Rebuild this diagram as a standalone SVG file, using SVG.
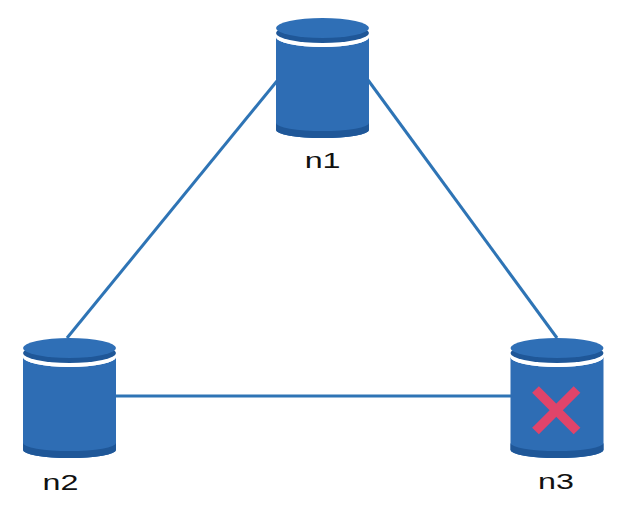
<svg xmlns="http://www.w3.org/2000/svg" xmlns:xlink="http://www.w3.org/1999/xlink" width="642" height="507" viewBox="0 0 642 507">
  <style>
    .edge { stroke: #2e74b5; stroke-width: 3; fill: none; stroke-linecap: butt; }
    .lbl { font-family: "Liberation Sans", Arial, sans-serif; font-size: 21.5px; fill: #111111; text-anchor: middle; }
    .body { fill: #2e6db4; }
    .band { fill: #1f5798; }
    .rim { fill: #1f5798; }
    .face { fill: #2f6fb6; }
    .gap { fill: #ffffff; }
    .cross { stroke: #e0446a; stroke-width: 9.5; stroke-linecap: butt; }
  </style>
  <defs>
    <g id="cyl">
      <path class="body" d="M -46.5,19 A 46.5 10 0 0 0 46.5,19 L 46.5,112 A 46.5 8 0 0 1 -46.5,112 Z"/>
      <path class="band" d="M -46.5,105 A 46.5 8 0 0 0 46.5,105 L 46.5,112 A 46.5 8 0 0 1 -46.5,112 Z"/>
      <path class="gap" d="M -46.5,15 A 46.5 10 0 0 0 46.5,15 L 46.5,19 A 46.5 10 0 0 1 -46.5,19 Z"/>
      <ellipse class="rim" cx="0" cy="15" rx="46.5" ry="10"/>
      <ellipse class="face" cx="0" cy="10" rx="46.5" ry="10"/>
    </g>
  </defs>
  <rect x="0" y="0" width="642" height="507" fill="#ffffff"/>
  <g id="connectors">
    <line class="edge" x1="277" y1="81" x2="67" y2="338"/>
    <line class="edge" x1="368" y1="80" x2="557" y2="338"/>
    <line class="edge" x1="115" y1="396" x2="512" y2="396"/>
  </g>
  <g id="n1">
    <use xlink:href="#cyl" transform="translate(322.5,18)"/>
    <text class="lbl" transform="translate(322.6,168) scale(1.5,1)">n1</text>
  </g>
  <g id="n2">
    <use xlink:href="#cyl" transform="translate(69.5,338)"/>
    <text class="lbl" transform="translate(60.5,490) scale(1.5,1)">n2</text>
  </g>
  <g id="n3">
    <use xlink:href="#cyl" transform="translate(557,338)"/>
    <line class="cross" x1="535.5" y1="389.5" x2="577" y2="431"/>
    <line class="cross" x1="577" y1="389.5" x2="535.5" y2="431"/>
    <text class="lbl" transform="translate(556,489) scale(1.5,1)">n3</text>
  </g>
</svg>
